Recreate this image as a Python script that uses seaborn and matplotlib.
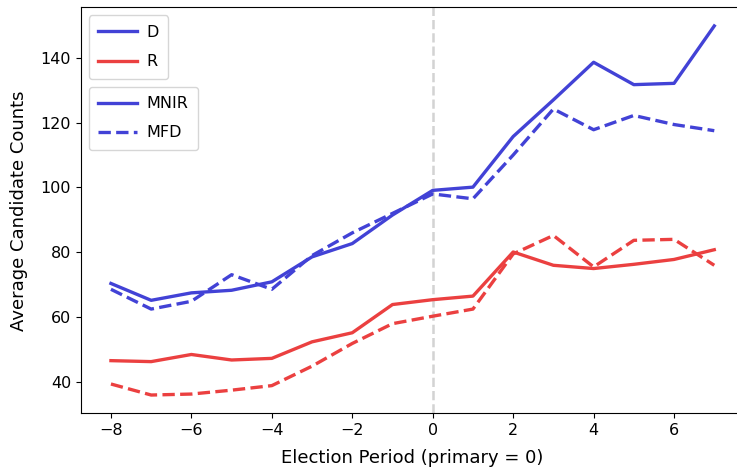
import pandas as pd
import numpy as np
import matplotlib.pyplot as plt
import seaborn as sns
from matplotlib.lines import Line2D

periods = list(range(-8, 8))

d_mnir = [70.4, 65.2, 67.5, 68.3, 70.9, 78.6, 82.7, 91.5, 99.1, 100.1, 115.7, 127.0, 138.6, 131.7, 132.1, 149.8]
d_mfd = [68.6, 62.5, 64.9, 73.1, 68.6, 79.0, 86.0, 92.0, 98.0, 96.5, 110.0, 124.2, 117.8, 122.2, 119.4, 117.5]
r_mnir = [46.6, 46.3, 48.5, 46.8, 47.3, 52.4, 55.2, 63.9, 65.4, 66.5, 80.1, 76.0, 75.0, 76.3, 77.8, 80.8]
r_mfd = [39.4, 36.0, 36.3, 37.5, 38.9, 44.9, 51.9, 58.0, 60.3, 62.5, 79.5, 85.2, 75.5, 83.7, 84.0, 76.0]

parties = ['D', 'R']
methods = ['MNIR', 'MFD']

# long-form table for seaborn
rows = []
for party, method, vals in [('D', 'MNIR', d_mnir), ('D', 'MFD', d_mfd),
                            ('R', 'MNIR', r_mnir), ('R', 'MFD', r_mfd)]:
    for p, v in zip(periods, vals):
        rows.append({'period': p, 'count': v, 'party': party, 'method': method})
df = pd.DataFrame(rows)

blue = (0.26, 0.26, 0.84)
red = (0.92, 0.25, 0.25)
palette = {'D': blue, 'R': red}
dash = (3.7, 1.6)
dashes = {'MNIR': '', 'MFD': dash}
lw = 2.4

plt.rcParams['font.size'] = 11.5
fig = plt.figure(figsize=(7.37, 4.68), dpi=100)
ax = fig.add_axes([0.1096, 0.1165, 0.9005, 0.8675])

ax.axvline(0, color='lightgray', linestyle='--', linewidth=1.8, zorder=0)

sns.lineplot(data=df, x='period', y='count', hue='party', style='method',
             palette=palette, dashes=dashes, linewidth=lw, legend=False, ax=ax)

ax.set_xlabel('Election Period (primary = 0)', fontsize=13, labelpad=8)
ax.set_ylabel('Average Candidate Counts', fontsize=13, labelpad=9)
ax.set_yticks([40, 60, 80, 100, 120, 140])
ax.spines['right'].set_visible(False)

party_handles = [Line2D([0], [0], color=palette[p], linewidth=lw) for p in parties]
leg1 = ax.legend(party_handles, parties, loc='upper left', handlelength=2.4,
                 handletextpad=0.6, labelspacing=0.9, borderpad=0.6)
ax.add_artist(leg1)
method_handles = [Line2D([0], [0], color=blue, linewidth=lw),
                  Line2D([0], [0], color=blue, linewidth=lw, dashes=dash)]
ax.legend(method_handles, methods, loc='upper left', bbox_to_anchor=(0.0, 0.825),
          handlelength=2.4, handletextpad=0.6, labelspacing=0.9, borderpad=0.6)

fig.savefig('out.png', dpi=100)
